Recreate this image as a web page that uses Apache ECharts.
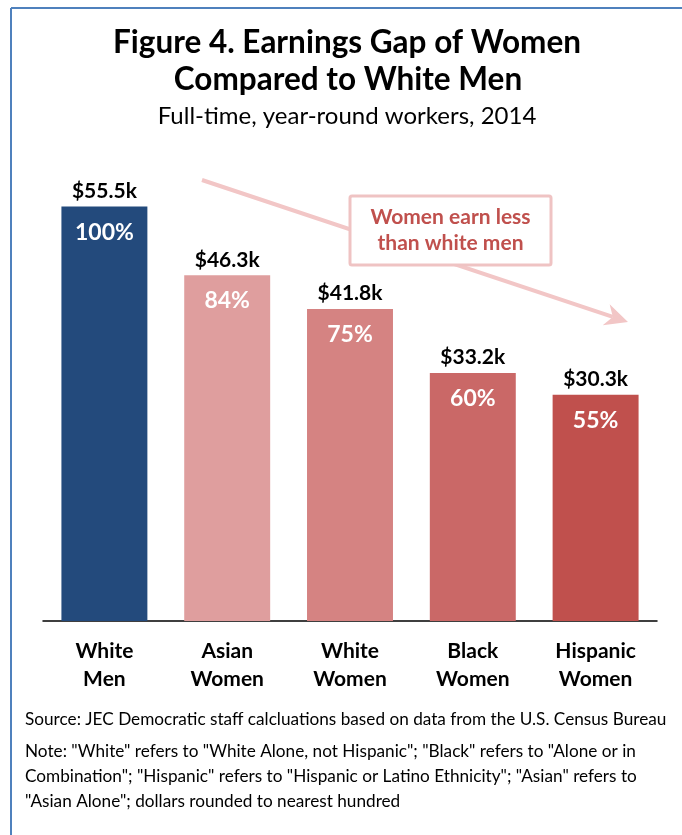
<!DOCTYPE html>
<html>
<head>
<meta charset="utf-8">
<script src="https://cdn.jsdelivr.net/npm/echarts@6/dist/echarts.min.js"></script>
<style>
html,body{margin:0;padding:0;background:#fff;}
#chart{width:682px;height:835px;}
</style>
</head>
<body>
<div id="chart"></div>
<script>
var categories = ['White\nMen', 'Asian\nWomen', 'White\nWomen', 'Black\nWomen', 'Hispanic\nWomen'];
var earnings = [55.5, 46.3, 41.8, 33.2, 30.3];
var percents = [100, 84, 75, 60, 55];
var barColors = ['#234A7C', '#DF9E9E', '#D58382', '#CA6867', '#C0504D'];
var titleLines = ['Figure 4. Earnings Gap of Women', 'Compared to White Men'];
var subtitleText = 'Full-time, year-round workers, 2014';
var calloutText = 'Women earn less\nthan white men';
var sourceText = 'Source: JEC Democratic staff calcluations based on data from the U.S. Census Bureau';
var noteLines = [
  'Note: "White" refers to "White Alone, not Hispanic"; "Black" refers to "Alone or in',
  'Combination"; "Hispanic" refers to "Hispanic or Latino Ethnicity"; "Asian" refers to',
  '"Asian Alone"; dollars rounded to nearest hundred'
];

var FONT = 'Lato, "Open Sans", sans-serif';
var chart = echarts.init(document.getElementById('chart'), null, {renderer: 'canvas'});

// arrow geometry (annotation decoration)
var tail = [202, 180], tip = [628, 322];
var dx = tip[0] - tail[0], dy = tip[1] - tail[1];
var len = Math.sqrt(dx * dx + dy * dy);
var ux = dx / len, uy = dy / len, nx = -uy, ny = ux;
var headLen = 23, headHalf = 11, notch = 16;
var base = [tip[0] - headLen * ux, tip[1] - headLen * uy];
var notchPt = [tip[0] - notch * ux, tip[1] - notch * uy];
var w1 = [base[0] + headHalf * nx, base[1] + headHalf * ny];
var w2 = [base[0] - headHalf * nx, base[1] - headHalf * ny];
var ARROW = '#F2C6C6';

var graphics = [
  {type: 'line', shape: {x1: 11, y1: 8, x2: 682, y2: 8}, style: {stroke: '#4F81BD', lineWidth: 2}, silent: true},
  {type: 'line', shape: {x1: 11, y1: 8, x2: 11, y2: 835}, style: {stroke: '#4F81BD', lineWidth: 2}, silent: true},
  {type: 'line', shape: {x1: tail[0], y1: tail[1], x2: notchPt[0], y2: notchPt[1]}, style: {stroke: ARROW, lineWidth: 4}, z: 1},
  {type: 'polygon', shape: {points: [tip, w1, notchPt, w2]}, style: {fill: ARROW}, z: 1},
  {type: 'rect', shape: {x: 350, y: 196, width: 201, height: 69, r: 2}, style: {fill: '#fff', stroke: '#EFC3C3', lineWidth: 3}, z: 2},
  {type: 'text', x: 450.5, y: 230.5, z: 3, style: {text: calloutText, fill: '#C0504D', font: 'bold 21px ' + FONT, align: 'center', verticalAlign: 'middle', lineHeight: 26}},
  {type: 'text', x: 347, y: 43, style: {text: titleLines[0], fill: '#000', font: 'bold 31.5px ' + FONT, align: 'center', verticalAlign: 'middle'}},
  {type: 'text', x: 348, y: 80, style: {text: titleLines[1], fill: '#000', font: 'bold 31.5px ' + FONT, align: 'center', verticalAlign: 'middle'}},
  {type: 'text', x: 347, y: 116, style: {text: subtitleText, fill: '#000', font: '24px ' + FONT, align: 'center', verticalAlign: 'middle'}},
  {type: 'text', x: 25, y: 719, style: {text: sourceText, fill: '#000', font: '17.2px ' + FONT, align: 'left', verticalAlign: 'middle'}}
];
noteLines.forEach(function (t, i) {
  graphics.push({type: 'text', x: 25, y: 751 + i * 25, style: {text: t, fill: '#000', font: '17.2px ' + FONT, align: 'left', verticalAlign: 'middle'}});
});

chart.setOption({
  animation: false,
  backgroundColor: '#fff',
  grid: {left: 43, right: 25, top: 173, bottom: 214, containLabel: false},
  xAxis: {
    type: 'category',
    data: categories,
    axisLine: {lineStyle: {color: '#000', width: 1.5}},
    axisTick: {show: false},
    axisLabel: {color: '#000', fontFamily: FONT, fontWeight: 'bold', fontSize: 21, lineHeight: 28, margin: 16, interval: 0}
  },
  yAxis: {type: 'value', min: 0, max: 60, show: false, splitLine: {show: false}},
  series: [
    {
      type: 'bar',
      barWidth: '70%',
      data: earnings.map(function (v, i) { return {value: v, itemStyle: {color: barColors[i]}}; }),
      label: {
        show: true, position: 'insideTop', distance: 14,
        color: '#fff', fontFamily: FONT, fontWeight: 'bold', fontSize: 23,
        formatter: function (p) { return percents[p.dataIndex] + '%'; }
      },
      z: 3
    },
    {
      type: 'bar',
      barWidth: '70%',
      barGap: '-100%',
      data: earnings,
      itemStyle: {color: 'rgba(0,0,0,0)'},
      label: {
        show: true, position: 'top', distance: 5,
        color: '#000', fontFamily: FONT, fontWeight: 'bold', fontSize: 21,
        formatter: function (p) { return '$' + p.value.toFixed(1) + 'k'; }
      },
      z: 4,
      silent: true
    }
  ],
  graphic: graphics
});
</script>
</body>
</html>
